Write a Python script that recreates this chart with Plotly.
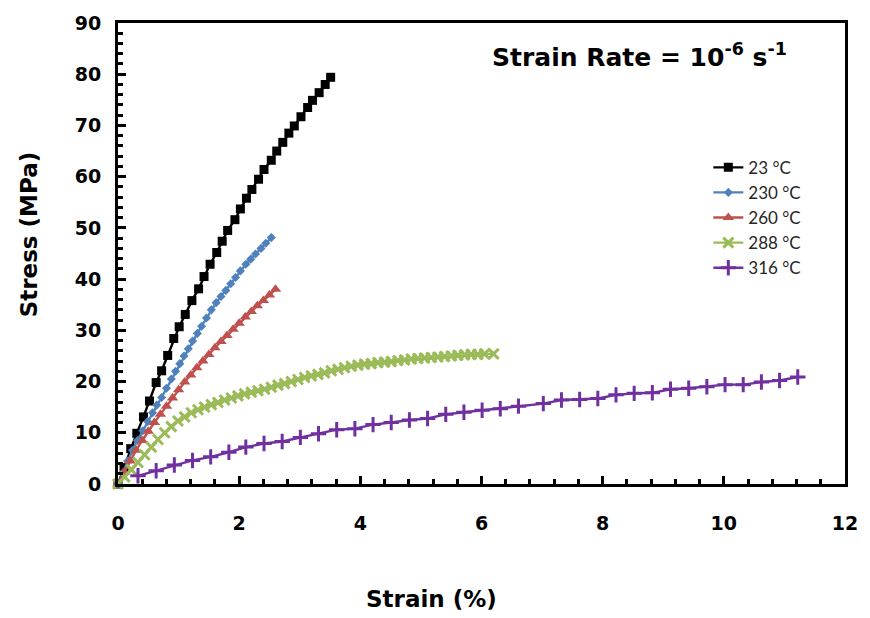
import plotly.graph_objects as go

series_names = ["23 °C", "230 °C", "260 °C", "288 °C", "316 °C"]
series_colors = ["#000000", "#4F81BD", "#C0504D", "#9BBB59", "#7030A0"]

strain_23 = [0, 0.1, 0.21, 0.31, 0.42, 0.52, 0.63, 0.72, 0.82, 0.92, 1.01, 1.11, 1.22, 1.33, 1.42,
             1.52, 1.63, 1.72, 1.81, 1.93, 2.02, 2.12, 2.21, 2.32, 2.41, 2.53, 2.62, 2.72, 2.82,
             2.91, 3.02, 3.13, 3.21, 3.32, 3.42, 3.51]
stress_23 = [0, 3.2, 6.9, 9.9, 13.1, 16.2, 19.8, 22.1, 25.1, 28.4, 30.7, 33.1, 35.8, 38.1, 40.5,
             42.9, 45.2, 47.4, 49.5, 51.6, 53.7, 55.8, 57.5, 59.5, 61.4, 63.2, 65.0, 66.7, 68.5,
             69.9, 71.7, 73.5, 74.9, 76.4, 78.0, 79.4]

strain_230 = [0.00, 0.08, 0.16, 0.24, 0.32, 0.41, 0.49, 0.57, 0.64, 0.72, 0.80, 0.88, 0.95, 1.02,
              1.09, 1.16, 1.23, 1.31, 1.38, 1.46, 1.54, 1.62, 1.70, 1.78, 1.86, 1.94, 2.02, 2.11,
              2.19, 2.27, 2.36, 2.44, 2.53]
stress_230 = [0.0, 2.2, 4.5, 6.6, 8.5, 10.4, 12.2, 13.9, 15.4, 16.9, 18.7, 20.5, 22.0, 23.5,
              25.0, 26.4, 27.9, 29.4, 30.8, 32.4, 34.0, 35.4, 36.6, 37.8, 39.1, 40.3, 41.6, 42.9,
              43.9, 44.9, 46.0, 47.0, 48.1]

strain_260 = [0.00, 0.10, 0.20, 0.30, 0.40, 0.50, 0.60, 0.70, 0.80, 0.90, 1.00, 1.10, 1.20, 1.30,
              1.40, 1.50, 1.60, 1.70, 1.80, 1.90, 2.00, 2.10, 2.20, 2.30, 2.40, 2.50, 2.60]
stress_260 = [0.0, 2.3, 4.5, 6.6, 8.5, 10.3, 12.0, 13.6, 15.2, 16.8, 18.4, 19.9, 21.3, 22.7,
              24.0, 25.3, 26.6, 27.8, 29.0, 30.2, 31.4, 32.6, 33.7, 34.8, 35.8, 36.9, 38.0]

strain_288 = [0.00, 0.11, 0.22, 0.33, 0.44, 0.55, 0.66, 0.77, 0.88, 0.99, 1.10, 1.21, 1.32, 1.43,
              1.54, 1.65, 1.76, 1.87, 1.98, 2.09, 2.20, 2.31, 2.42, 2.53, 2.64, 2.75, 2.86, 2.97,
              3.08, 3.19, 3.30, 3.41, 3.52, 3.63, 3.74, 3.85, 3.96, 4.07, 4.18, 4.29, 4.40, 4.51,
              4.62, 4.73, 4.84, 4.95, 5.06, 5.17, 5.28, 5.39, 5.50, 5.61, 5.72, 5.83, 5.94, 6.05,
              6.20]
stress_288 = [0.0, 1.4, 2.8, 4.2, 5.7, 7.2, 8.7, 10.0, 11.2, 12.3, 13.1, 13.9, 14.5, 15.0,
              15.5, 15.9, 16.4, 16.8, 17.2, 17.6, 17.9, 18.2, 18.5, 18.9, 19.3, 19.6, 20.0, 20.4,
              20.8, 21.1, 21.4, 21.7, 22.1, 22.4, 22.7, 23.0, 23.2, 23.4, 23.5, 23.7, 23.8, 23.9,
              24.1, 24.2, 24.4, 24.5, 24.6, 24.7, 24.8, 24.9, 25.0, 25.1, 25.2, 25.3, 25.3, 25.4,
              25.4]

strain_316 = [0.33, 0.63, 0.93, 1.23, 1.53, 1.83, 2.11, 2.41, 2.71, 3.01, 3.31, 3.61, 3.91, 4.21,
              4.51, 4.81, 5.11, 5.41, 5.71, 6.01, 6.31, 6.61, 7.02, 7.32, 7.62, 7.92, 8.22, 8.52,
              8.82, 9.12, 9.42, 9.72, 10.02, 10.32, 10.62, 10.92, 11.22]
stress_316 = [1.6, 2.6, 3.7, 4.6, 5.3, 6.2, 7.2, 7.9, 8.3, 9.1, 9.8, 10.6, 10.8, 11.6,
              12.0, 12.5, 12.8, 13.6, 14.0, 14.4, 14.7, 15.2, 15.7, 16.4, 16.5, 16.7, 17.4, 17.7,
              17.8, 18.5, 18.7, 19.0, 19.4, 19.4, 19.9, 20.2, 20.9]

x_tick_vals = [0, 2, 4, 6, 8, 10, 12]
y_tick_vals = [0, 10, 20, 30, 40, 50, 60, 70, 80, 90]

xs = [strain_23, strain_230, strain_260, strain_288, strain_316]
ys = [stress_23, stress_230, stress_260, stress_288, stress_316]
symbols = ["square", "diamond", "triangle-up", "x-thin-open", "cross-thin-open"]
msizes = [9, 7, 10, 10, 11]

fig = go.Figure()
for name, color, x, y, sym, ms in zip(series_names, series_colors, xs, ys, symbols, msizes):
    marker = dict(symbol=sym, size=ms, color=color)
    if sym.endswith("-thin-open"):
        marker["line"] = dict(color=color, width=3)
    else:
        marker["line"] = dict(width=0)
    fig.add_trace(go.Scatter(x=x, y=y, name=name, mode="lines+markers",
                             line=dict(color=color, width=2.4), marker=marker,
                             cliponaxis=False))

axis_font = dict(family="DejaVu Sans, sans-serif", size=19, color="#000000", weight="bold")

fig.update_xaxes(range=[0, 12], tickvals=x_tick_vals, ticks="inside", ticklen=8, tickwidth=2.5,
                 tickcolor="#000", showline=True, linewidth=3, linecolor="#000", mirror=True,
                 showgrid=False, zeroline=False, tickfont=axis_font, ticklabelstandoff=20,
                 minor=dict(dtick=0.4, ticks="inside", ticklen=5, tickwidth=2.5, tickcolor="#000"))
fig.update_yaxes(range=[0, 90], tickvals=y_tick_vals, ticks="inside", ticklen=8, tickwidth=2.5,
                 tickcolor="#000", showline=True, linewidth=3, linecolor="#000", mirror=True,
                 showgrid=False, zeroline=False, tickfont=axis_font, ticklabelstandoff=10,
                 minor=dict(dtick=2, ticks="inside", ticklen=5, tickwidth=2.5, tickcolor="#000"))

title_font = dict(family="DejaVu Sans, sans-serif", size=23, color="#000000", weight="bold")

fig.update_layout(
    width=870, height=618,
    margin=dict(l=118, r=19, t=18, b=134),
    paper_bgcolor="white", plot_bgcolor="white",
    showlegend=True,
    legend=dict(x=0.812, y=0.725, xanchor="left", yanchor="top",
                font=dict(family="Lato, Open Sans, sans-serif", size=17, color="#262626"),
                bgcolor="rgba(0,0,0,0)", itemwidth=30, tracegroupgap=0),
    annotations=[
        dict(text="Strain Rate = 10<sup>-6</sup> s<sup>-1</sup>", xref="paper", yref="paper",
             x=0.923, y=0.93, xanchor="right", yanchor="middle", showarrow=False,
             font=dict(family="DejaVu Sans, sans-serif", size=25, color="#000000", weight="bold")),
        dict(text="Strain (%)", xref="paper", yref="paper", x=0.431, y=-0.249,
             xanchor="center", yanchor="middle", showarrow=False, font=title_font),
        dict(text="Stress (MPa)", xref="paper", yref="paper", x=-0.1228, y=0.541,
             xanchor="center", yanchor="middle", showarrow=False, textangle=-90, font=title_font),
    ],
)

fig.write_html("out.html", config={"displayModeBar": False},
               post_script="document.body.style.margin='0';")
